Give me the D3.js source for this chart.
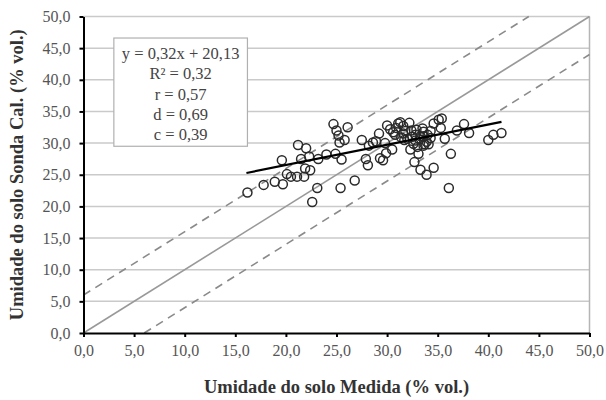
<!DOCTYPE html>
<meta charset="utf-8">
<style>
  body { margin: 0; background: #fff; }
  .grid line { stroke: #cacaca; stroke-width: 1.5px; }
  .axis path, .axis line { stroke: #000; stroke-width: 2px; }
  .axis-title { font-family: "Liberation Serif", serif; font-size: 18.5px; font-weight: bold; fill: #333; }
  .stats { font-family: "Liberation Serif", serif; font-size: 16.5px; fill: #444; text-anchor: middle; }
  .pt { fill: none; stroke: #2a2a2a; stroke-width: 1.5px; }
</style>
<body>
<div id="vis"></div>
<script src="https://cdn.jsdelivr.net/npm/d3@7"></script>
<script>

const width = 606,
    height = 400;

// Umidade medida (x) vs Sonda calibrada (y), % vol.
const measured = [16.2, 17.8, 18.9, 19.7, 19.6, 20.1, 20.5, 21.1, 21.8, 21.2,
  22.0, 21.5, 22.3, 22.4, 21.9, 22.6, 23.1, 23.2, 24.0, 24.7,
  25.0, 25.2, 25.3, 25.8, 26.1, 24.9, 25.5, 25.4, 26.8, 27.5,
  27.9, 28.1, 28.2, 28.6, 29.3, 29.6, 29.2, 29.8, 29.9, 30.0,
  30.3, 30.5, 30.8, 31.1, 31.3, 31.6, 31.6, 31.7, 32.2, 32.4,
  32.5, 32.6, 32.7, 33.0, 33.1, 33.3, 33.3, 33.6, 33.7, 33.9,
  34.0, 34.3, 34.3, 34.6, 34.6, 35.1, 35.4, 35.3, 35.7, 36.3,
  36.1, 36.9, 37.6, 38.1, 40.0, 40.5, 41.3, 32.9, 33.6, 32.3,
  33.6, 30.9, 31.8, 32.0, 32.8, 33.2, 33.9, 34.1, 31.4, 30.6,
  33.5, 32.8, 28.9];
const calculated = [22.2, 23.4, 23.9, 23.5, 27.3, 25.1, 24.7, 24.7, 24.7, 29.7,
  29.2, 27.5, 27.9, 25.7, 26.0, 20.7, 22.9, 27.5, 28.2, 33.0,
  32.0, 31.2, 30.1, 30.5, 32.5, 28.3, 27.4, 22.9, 24.1, 30.5,
  27.5, 26.5, 29.6, 30.1, 27.6, 27.3, 31.5, 30.0, 28.4, 32.8,
  32.2, 29.0, 31.3, 33.1, 33.3, 32.7, 31.5, 30.5, 33.2, 32.0,
  31.0, 29.9, 27.0, 29.4, 28.3, 31.1, 25.8, 31.8, 29.8, 25.0,
  31.3, 30.8, 31.9, 26.1, 33.1, 33.7, 33.9, 32.4, 30.7, 28.3,
  22.9, 32.0, 33.0, 31.6, 30.5, 31.3, 31.6, 32.1, 31.1, 29.0,
  29.6, 32.4, 31.9, 30.7, 30.4, 30.6, 30.2, 29.8, 30.9, 31.7,
  32.3, 31.3, 30.3];

const ticks = [0, 5, 10, 15, 20, 25, 30, 35, 40, 45, 50];
const slope = 0.32, intercept = 20.13;
const fitRange = [16.1, 41.3];
const offset = 6; // limites tracejados
const statLines = ['y = 0,32x + 20,13', 'R² = 0,32', 'r = 0,57', 'd = 0,69', 'c = 0,39'];

const fmt = d => d.toFixed(1).replace('.', ',');

let margin = {l: 83.5, r: 16.5, t: 16.5, b: 67};
let x = d3.scaleLinear().domain([0, 50]).range([margin.l, width - margin.r]);
let y = d3.scaleLinear().domain([0, 50]).range([height - margin.b, margin.t]);

let svg = d3.select('#vis').append('svg')
    .attr('width', width)
    .attr('height', height);

// grid
svg.append('g')
    .attr('class', 'grid')
    .selectAll('line')
    .data(ticks.slice(1))
    .enter().append('line')
    .attr('x1', x(0)).attr('x2', x(50))
    .attr('y1', d => y(d)).attr('y2', d => y(d));
svg.append('line')
    .attr('x1', x(50)).attr('x2', x(50))
    .attr('y1', y(0)).attr('y2', y(50))
    .style('stroke', '#b5b5b5').style('stroke-width', 1.5);

// 1:1 and limits
const line = d3.line().x(d => x(d[0])).y(d => y(d[1]));
svg.append('path')
    .attr('d', line([[0, 0], [50, 50]]))
    .style('stroke', '#999').style('stroke-width', 1.6).style('fill', 'none');
[[[0, offset], [50 - offset, 50]], [[offset, 0], [50, 50 - offset]]].forEach(seg => {
  svg.append('path')
      .attr('d', line(seg))
      .style('stroke', '#8a8a8a').style('stroke-width', 1.6)
      .style('stroke-dasharray', '8,6').style('fill', 'none');
});

// stats box
let bx0 = 3.0, bx1 = 16.2, by0 = 46.6, by1 = 29.5;
svg.append('rect')
    .attr('x', x(bx0)).attr('y', y(by0))
    .attr('width', x(bx1) - x(bx0)).attr('height', y(by1) - y(by0))
    .style('fill', '#fff').style('stroke', '#b0b0b0').style('stroke-width', 1.2);
svg.append('g').selectAll('text')
    .data(statLines)
    .enter().append('text')
    .attr('class', 'stats')
    .attr('x', (x(bx0) + x(bx1)) / 2)
    .attr('y', (d, i) => y(by0) + 21 + i * 20.3)
    .text(d => d);

// points
svg.append('g').selectAll('circle')
    .data(measured.map((m, i) => [m, calculated[i]]))
    .enter().append('circle')
    .attr('class', 'pt')
    .attr('cx', d => x(d[0]))
    .attr('cy', d => y(d[1]))
    .attr('r', 4.5);

// regression
svg.append('path')
    .attr('d', line(fitRange.map(v => [v, slope * v + intercept])))
    .style('stroke', '#000').style('stroke-width', 2.2).style('fill', 'none');

// axes
let xAxisG = svg.append('g')
    .attr('class', 'axis')
    .attr('transform', 'translate(0,' + y(0) + ')')
    .call(d3.axisBottom(x).tickValues(ticks).tickFormat(fmt).tickSize(4).tickSizeOuter(0).tickPadding(8));
let yAxisG = svg.append('g')
    .attr('class', 'axis')
    .attr('transform', 'translate(' + x(0) + ',0)')
    .call(d3.axisLeft(y).tickValues(ticks).tickFormat(fmt).tickSize(4).tickSizeOuter(0).tickPadding(9));
[xAxisG, yAxisG].forEach(g => {
  g.attr('font-family', '"Liberation Serif", serif').attr('font-size', 16);
  g.selectAll('text')
      .style('font-family', '"Liberation Serif", serif')
      .style('font-size', '16px')
      .style('fill', '#555');
});

svg.append('text')
    .attr('class', 'axis-title')
    .attr('x', (x(0) + x(50)) / 2)
    .attr('y', 393)
    .style('text-anchor', 'middle')
    .text('Umidade do solo Medida (% vol.)');
svg.append('text')
    .attr('class', 'axis-title')
    .attr('transform', 'translate(23,' + (y(25)) + ') rotate(-90)')
    .style('text-anchor', 'middle')
    .text('Umidade do solo Sonda Cal. (% vol.)');

</script>
</body>
